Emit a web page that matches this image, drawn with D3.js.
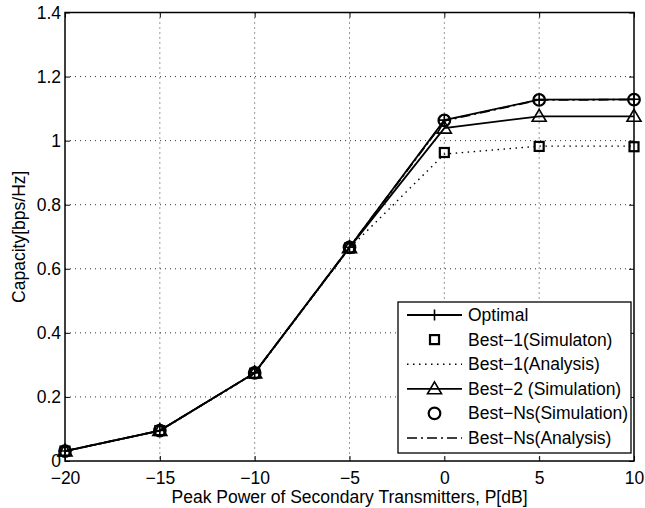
<!DOCTYPE html>
<html lang="en">
<head>
<meta charset="utf-8">
<title>Capacity vs Peak Power</title>
<script src="https://cdn.jsdelivr.net/npm/d3@7"></script>
<style>
  body { margin: 0; background: #fff; }
  text { font-family: "Liberation Sans", Arial, Helvetica, sans-serif; fill: #000; }
</style>
</head>
<body>
<div id="chart"></div>
<script>
// data
let xVals = [-20, -15, -10, -5, 0, 5, 10]
let optimal   = [0.031, 0.095, 0.275, 0.667, 1.064, 1.128, 1.129]
let best1Sim  = [0.031, 0.095, 0.274, 0.665, 0.963, 0.982, 0.981]
let best1Ana  = [0.030, 0.094, 0.273, 0.664, 0.958, 0.983, 0.983]
let best2Sim  = [0.031, 0.095, 0.275, 0.666, 1.039, 1.076, 1.076]
let bestNsSim = [0.031, 0.095, 0.275, 0.667, 1.063, 1.127, 1.128]
let bestNsAna = [0.031, 0.095, 0.275, 0.667, 1.062, 1.127, 1.128]
let xTicks = [-20, -15, -10, -5, 0, 5, 10]
let yTicks = [0, 0.2, 0.4, 0.6, 0.8, 1, 1.2, 1.4]

let w = 645, h = 508
let pLeft = 65, pTop = 12.5, pRight = 634, pBottom = 461
let fs = "17.5px"

let svg = d3.select("#chart").append("svg")
    .attr("width", w).attr("height", h)

let x = d3.scaleLinear().domain([-20, 10]).range([pLeft, pRight])
let y = d3.scaleLinear().domain([0, 1.4]).range([pBottom, pTop])

// grid
let grid = svg.append("g")
grid.selectAll(".gx").data(xTicks.slice(1, -1)).enter().append("line")
    .attr("x1", d => x(d)).attr("x2", d => x(d))
    .attr("y1", pTop).attr("y2", pBottom)
    .attr("stroke", "#333").attr("stroke-width", 1).attr("stroke-dasharray", "1,4")
grid.selectAll(".gy").data(yTicks.slice(1, -1)).enter().append("line")
    .attr("x1", pLeft).attr("x2", pRight)
    .attr("y1", d => y(d)).attr("y2", d => y(d))
    .attr("stroke", "#333").attr("stroke-width", 1).attr("stroke-dasharray", "1,4")

// axes: ticks inward on all four sides
function styleAxis(g) {
  g.select(".domain").remove()
  g.selectAll("line").attr("stroke", "#000")
  g.selectAll("text").style("font-size", fs)
}
svg.append("g").attr("transform", "translate(0," + pBottom + ")")
    .call(d3.axisBottom(x).tickValues(xTicks).tickSizeInner(-5).tickPadding(11).tickFormat(d3.format("d")))
    .call(styleAxis)
svg.append("g").attr("transform", "translate(0," + pTop + ")")
    .call(d3.axisTop(x).tickValues(xTicks).tickSizeInner(-5).tickFormat(""))
    .call(styleAxis)
svg.append("g").attr("transform", "translate(" + pLeft + ",0)")
    .call(d3.axisLeft(y).tickValues(yTicks).tickSizeInner(-5).tickPadding(4).tickFormat(d => d === 0 ? "0" : d3.format("")(d)))
    .call(styleAxis)
svg.append("g").attr("transform", "translate(" + pRight + ",0)")
    .call(d3.axisRight(y).tickValues(yTicks).tickSizeInner(-5).tickFormat(""))
    .call(styleAxis)

svg.append("rect")
    .attr("x", pLeft).attr("y", pTop)
    .attr("width", pRight - pLeft).attr("height", pBottom - pTop)
    .attr("fill", "none").attr("stroke", "#000").attr("stroke-width", 1.5)

// axis labels
svg.append("text")
    .attr("x", (pLeft + pRight) / 2).attr("y", 503)
    .attr("text-anchor", "middle").style("font-size", fs)
    .text("Peak Power of Secondary Transmitters, P[dB]")
svg.append("text")
    .attr("transform", "translate(25," + ((pTop + pBottom) / 2) + ") rotate(-90)")
    .attr("text-anchor", "middle").style("font-size", fs)
    .text("Capacity[bps/Hz]")

let line = d3.line().x((d, i) => x(xVals[i])).y(d => y(d))

function drawLine(data, dash, sw) {
  svg.append("path").datum(data)
      .attr("d", line)
      .attr("fill", "none").attr("stroke", "#000")
      .attr("stroke-width", sw)
      .attr("stroke-dasharray", dash)
}

drawLine(best1Ana, "1.5,4.5", 1.4)
drawLine(best2Sim, null, 1.8)
drawLine(optimal, null, 1.8)
drawLine(bestNsAna, "10,4,2,4", 1.8)

// marker shapes
function marker(g, kind, cx, cy) {
  if (kind === "plus") {
    g.append("path").attr("d", "M" + (cx - 5.5) + "," + cy + "h11M" + cx + "," + (cy - 5.5) + "v11")
      .attr("stroke", "#000").attr("stroke-width", 1.6).attr("fill", "none")
  } else if (kind === "square") {
    g.append("rect").attr("x", cx - 4.5).attr("y", cy - 4.5).attr("width", 9).attr("height", 9)
      .attr("fill", "none").attr("stroke", "#000").attr("stroke-width", 2.2)
  } else if (kind === "circle") {
    g.append("circle").attr("cx", cx).attr("cy", cy).attr("r", 5.8)
      .attr("fill", "none").attr("stroke", "#000").attr("stroke-width", 2.2)
  } else if (kind === "tri") {
    g.append("path").attr("d", "M" + cx + "," + (cy - 7) + "L" + (cx + 7) + "," + (cy + 5) + "L" + (cx - 7) + "," + (cy + 5) + "Z")
      .attr("fill", "none").attr("stroke", "#000").attr("stroke-width", 1.6)
  }
}

let marks = svg.append("g")
function drawMarkers(data, kind) {
  data.forEach((d, i) => marker(marks, kind, x(xVals[i]), y(d)))
}
drawMarkers(best1Sim, "square")
drawMarkers(best2Sim, "tri")
drawMarkers(bestNsSim, "circle")
drawMarkers(optimal, "plus")

// legend
let legendItems = [
  { name: "Optimal", line: true, dash: null, mk: "plus" },
  { name: "Best\u22121(Simulaton)", line: false, dash: null, mk: "square" },
  { name: "Best\u22121(Analysis)", line: true, dash: "1.5,4.5", mk: null },
  { name: "Best\u22122 (Simulation)", line: true, dash: null, mk: "tri" },
  { name: "Best\u2212Ns(Simulation)", line: false, dash: null, mk: "circle" },
  { name: "Best\u2212Ns(Analysis)", line: true, dash: "10,4,2,4", mk: null }
]
let lg = svg.append("g")
lg.append("rect")
    .attr("x", 398).attr("y", 302).attr("width", 233).attr("height", 151)
    .attr("fill", "#fff").attr("stroke", "#000").attr("stroke-width", 1.3)
legendItems.forEach((it, i) => {
  let cy = 315 + i * 24.6
  if (it.line) {
    lg.append("line").attr("x1", 407).attr("x2", 462).attr("y1", cy).attr("y2", cy)
      .attr("stroke", "#000").attr("stroke-width", it.dash ? 1.4 : 1.8)
      .attr("stroke-dasharray", it.dash)
  }
  if (it.mk) marker(lg, it.mk, 434.5, cy)
  lg.append("text").attr("x", 468).attr("y", cy + 6)
    .style("font-size", fs).text(it.name)
})
</script>
</body>
</html>
